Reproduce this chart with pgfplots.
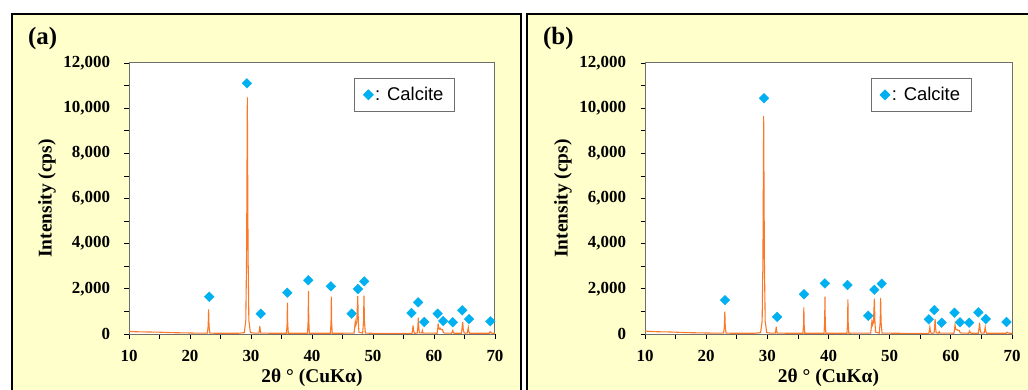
\documentclass[border=0pt]{standalone}
\usepackage{fontspec}
\setmainfont{Liberation Serif}
\newfontfamily\arialfont{Liberation Sans}
\usepackage{pgfplots}
\usepackage{pgfplotstable}
\pgfplotsset{compat=1.18}
\definecolor{panelbg}{RGB}{255,255,204}
\definecolor{orangec}{RGB}{250,120,40}
\definecolor{cyanc}{RGB}{0,176,240}
\definecolor{framec}{RGB}{110,110,110}

\pgfplotstableread{
x y
10 120
11 100
12 95
13 90
14 85
15 80
16 70
17 60
18 55
19 50
20 45
21 40
22 40
22.85 40
22.98 350
23.05 1090
23.12 350
23.25 40
24 35
26 35
28 35
28.9 60
29.15 600
29.28 3500
29.4 10480
29.52 3500
29.65 600
29.9 60
30.5 40
31.3 40
31.4 200
31.45 350
31.5 200
31.6 40
33 35
35 35
35.82 35
35.92 450
35.97 1390
36.02 450
36.12 35
38 35
39.27 35
39.37 600
39.42 1900
39.47 600
39.57 35
41 35
43.02 35
43.12 520
43.17 1650
43.22 520
43.32 35
45 35
46.9 40
47.0 300
47.1 550
47.2 400
47.35 550
47.5 1680
47.6 500
47.7 80
48.3 40
48.45 550
48.52 1700
48.6 550
48.75 40
50 30
52 30
54 30
56.4 30
56.5 200
56.57 380
56.65 150
56.8 30
57.25 40
57.35 300
57.43 720
57.5 300
57.6 50
58.0 50
58.1 150
58.2 40
60.5 35
60.6 200
60.69 470
60.78 250
60.9 220
61.0 260
61.15 200
61.4 200
61.5 80
61.7 40
62.9 35
63.0 100
63.08 150
63.15 80
63.3 35
64.5 35
64.6 250
64.7 530
64.8 200
64.95 40
65.45 40
65.55 180
65.62 280
65.7 120
65.85 35
69.05 35
69.15 80
69.2 100
69.3 70
69.5 35
70 35
}\patterna

\pgfplotstableread{
x y
23.16 1650
29.34 11100
31.6 900
35.95 1830
39.4 2380
43.1 2110
46.5 900
47.54 1990
48.57 2330
56.3 930
57.4 1400
58.4 530
60.6 900
61.5 575
63.07 520
64.64 1050
65.74 660
69.23 560
}\markersa

\pgfplotstableread{
x y
10 130
11 110
12 100
13 95
14 90
15 80
16 70
17 60
18 55
19 50
20 45
21 40
22 40
22.85 40
22.98 330
23.05 990
23.12 330
23.25 40
24 35
26 35
28 35
28.9 60
29.15 560
29.28 3200
29.4 9650
29.52 3200
29.65 560
29.9 60
30.5 40
31.3 40
31.4 180
31.45 320
31.5 180
31.6 40
33 35
35.82 35
35.92 400
35.97 1180
36.02 400
36.12 35
39.27 35
39.37 520
39.42 1650
39.47 520
39.57 35
43.02 35
43.12 490
43.17 1535
43.22 490
43.32 35
46.9 40
47.0 300
47.1 560
47.2 400
47.35 520
47.5 1570
47.6 480
47.7 80
48.3 40
48.45 520
48.52 1600
48.6 520
48.75 40
52 30
56.4 30
56.5 160
56.57 300
56.65 120
56.8 30
57.25 40
57.35 280
57.43 664
57.5 280
57.6 50
58.0 40
58.1 100
58.2 40
60.5 35
60.6 180
60.69 412
60.78 220
60.9 190
61.0 200
61.15 170
61.4 150
61.5 70
61.7 40
62.9 35
63.0 90
63.08 130
63.15 70
63.3 35
64.5 35
64.6 230
64.7 500
64.8 190
64.95 40
65.45 40
65.55 180
65.62 296
65.7 120
65.85 35
69.05 35
69.15 70
69.2 80
69.3 60
69.5 35
70 35
}\patternb

\pgfplotstableread{
x y
23.08 1500
29.46 10440
31.6 760
36.0 1760
39.4 2240
43.1 2170
46.5 810
47.5 1960
48.7 2230
56.4 650
57.3 1060
58.5 500
60.6 940
61.5 517
63.0 500
64.5 960
65.7 664
69.1 531
}\markersb

\pgfplotsset{
  xrdaxis/.style={
    scale only axis,
    height=271bp,
    xmin=10, xmax=70, ymin=0, ymax=12000,
    xtick={10,20,...,70},
    minor x tick num=1,
    ytick={0,2000,...,12000},
    minor y tick num=1,
    scaled y ticks=false,
    tick align=outside,
    tick pos=left,
    major tick length=4.5bp,
    minor tick length=4.5bp,
    axis line style={framec, line width=1bp},
    every tick/.style={black, line width=0.8bp},
    every minor tick/.style={black, line width=0.8bp},
    axis background/.style={fill=white},
    /pgf/number format/.cd, 1000 sep={,}, assume math mode=true, /pgfplots/.cd,
    tick label style={font=\bfseries\fontsize{17}{17}\selectfont, black},
    xticklabel style={yshift=-8bp},
    yticklabel style={xshift=-11bp},
    xlabel={2θ ° (CuKα)},
    ylabel={Intensity (cps)},
    label style={font=\bfseries\fontsize{19.5}{21}\selectfont},
    xlabel style={at={(axis description cs:0.5,-0.162)}, anchor=center},
    legend style={at={(0.615,0.945)}, anchor=north west, draw=framec, line width=1bp,
      fill=white, inner xsep=9bp, inner ysep=7bp,
      font=\arialfont\fontsize{18.5}{20}\selectfont,
      /tikz/every even column/.append style={column sep=1bp}},
    legend cell align=left,
  },
  diamondlegend/.style={legend image code/.code={\draw[cyanc, mark=square*, mark size=3.4bp, mark options={rotate=45, fill=cyanc, draw=cyanc}] plot coordinates {(0.15cm,0cm)};}},
}

\begin{document}
\begin{tikzpicture}
\useasboundingbox (0bp,0bp) rectangle (1028bp,390bp);
\clip (0bp,0bp) rectangle (1028bp,390bp);
\fill[white] (0bp,0bp) rectangle (1028bp,390bp);
\filldraw[fill=panelbg, draw=black, line width=2bp] (12bp,376bp) rectangle (521bp,-20bp);
\filldraw[fill=panelbg, draw=black, line width=2bp] (527bp,376bp) rectangle (1050bp,-20bp);
\node[anchor=base west, inner sep=0, font=\bfseries\fontsize{25}{25}\selectfont] at (28bp,345bp) {(a)};
\node[anchor=base west, inner sep=0, font=\bfseries\fontsize{25}{25}\selectfont] at (543bp,345bp) {(b)};

\begin{axis}[xrdaxis, at={(129bp,56bp)}, anchor=south west, width=366bp,
  ylabel style={at={(axis description cs:-0.224,0.5)}, anchor=center}]
\addplot[orangec, line width=1.1bp, forget plot] table[x=x,y=y] {\patterna};
\addplot[only marks, mark=square*, mark size=3.4bp, mark options={rotate=45, fill=cyanc, draw=cyanc}, cyanc, forget plot] table[x=x,y=y] {\markersa};
\addlegendimage{diamondlegend}
\addlegendentry{: Calcite}
\end{axis}

\begin{axis}[xrdaxis, at={(645bp,56bp)}, anchor=south west, width=367bp,
  ylabel style={at={(axis description cs:-0.2234,0.5)}, anchor=center}]
\addplot[orangec, line width=1.1bp, forget plot] table[x=x,y=y] {\patternb};
\addplot[only marks, mark=square*, mark size=3.4bp, mark options={rotate=45, fill=cyanc, draw=cyanc}, cyanc, forget plot] table[x=x,y=y] {\markersb};
\addlegendimage{diamondlegend}
\addlegendentry{: Calcite}
\end{axis}
\end{tikzpicture}
\end{document}
